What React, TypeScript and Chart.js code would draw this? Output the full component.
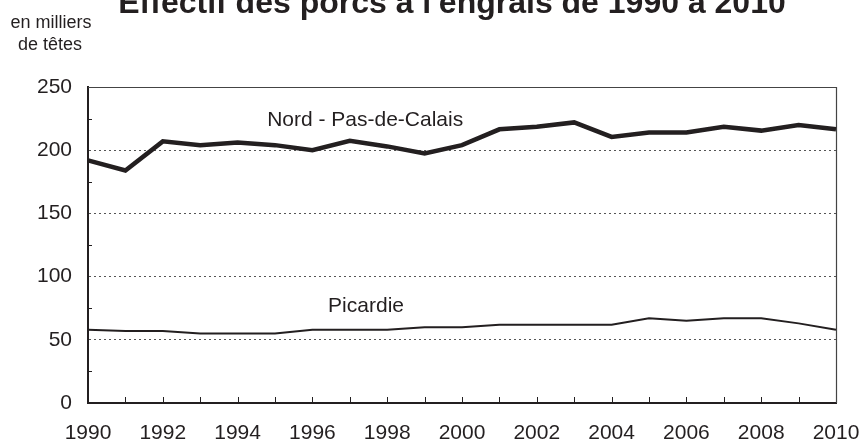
import React, { useEffect, useRef } from "react";
import { Chart, registerables } from "chart.js";

Chart.register(...registerables);

const years = [
  "1990", "1991", "1992", "1993", "1994", "1995", "1996", "1997", "1998", "1999", "2000",
  "2001", "2002", "2003", "2004", "2005", "2006", "2007", "2008", "2009", "2010",
];
const nordPasDeCalais = [
  192, 184, 207, 204, 206, 204, 200, 207.5, 203, 197.5, 204,
  216.5, 218.5, 222, 210.5, 214, 214, 218.5, 215.5, 220, 216.5,
];
const picardie = [
  58, 57, 57, 55, 55, 55, 58, 58, 58, 60, 60,
  62, 62, 62, 62, 67, 65, 67, 67, 63, 58,
];
const yTickValues = [0, 50, 100, 150, 200, 250];
const titleText = "Effectif des porcs à l'engrais de 1990 à 2010";
const unitLines = ["en milliers", "de têtes"];
const seriesLabels = ["Nord - Pas-de-Calais", "Picardie"];

const FONT = "'Liberation Sans', Arial, sans-serif";
const INK = "#231f20";

const decorPlugin = {
  id: "decor",
  beforeDatasetsDraw(chart: any) {
    const { ctx, chartArea, scales } = chart;
    const x = scales.x;
    const y = scales.y;
    ctx.save();
    ctx.strokeStyle = "#444";
    ctx.lineWidth = 1.2;
    ctx.beginPath();
    ctx.moveTo(chartArea.left, chartArea.top + 0.5);
    ctx.lineTo(chartArea.right + 0.5, chartArea.top + 0.5);
    ctx.lineTo(chartArea.right + 0.5, chartArea.bottom);
    ctx.stroke();
    ctx.strokeStyle = INK;
    ctx.lineWidth = 1;
    for (let v = 25; v < 250; v += 50) {
      const py = Math.round(y.getPixelForValue(v)) + 0.5;
      ctx.beginPath();
      ctx.moveTo(chartArea.left, py);
      ctx.lineTo(chartArea.left + 4, py);
      ctx.stroke();
    }
    for (let i = 1; i < years.length - 1; i++) {
      const px = Math.round(x.getPixelForValue(i)) + 0.5;
      ctx.beginPath();
      ctx.moveTo(px, chartArea.bottom);
      ctx.lineTo(px, chartArea.bottom - 6);
      ctx.stroke();
    }
    ctx.restore();
  },
  afterDraw(chart: any) {
    const { ctx, scales } = chart;
    const x = scales.x;
    const y = scales.y;
    ctx.save();
    ctx.fillStyle = INK;
    ctx.font = `bold 32px ${FONT}`;
    ctx.textAlign = "center";
    ctx.textBaseline = "alphabetic";
    ctx.fillText(titleText, 452, 13);
    ctx.font = `18px ${FONT}`;
    ctx.textAlign = "center";
    ctx.fillText(unitLines[0], 51, 28);
    ctx.fillText(unitLines[1], 50, 50);
    ctx.font = `21px ${FONT}`;
    ctx.textAlign = "left";
    ctx.fillText(seriesLabels[0], x.getPixelForValue(4.79), y.getPixelForValue(219));
    ctx.fillText(seriesLabels[1], x.getPixelForValue(6.42), y.getPixelForValue(72));
    ctx.restore();
  },
};

export default function App() {
  const canvasRef = useRef<HTMLCanvasElement | null>(null);

  useEffect(() => {
    if (!canvasRef.current) return;
    const chart = new Chart(canvasRef.current, {
      type: "line",
      data: {
        labels: years,
        datasets: [
          {
            label: seriesLabels[0],
            data: nordPasDeCalais,
            borderColor: INK,
            borderWidth: 4.5,
            pointRadius: 0,
            tension: 0,
            fill: false,
            borderJoinStyle: "miter",
          },
          {
            label: seriesLabels[1],
            data: picardie,
            borderColor: INK,
            borderWidth: 2,
            pointRadius: 0,
            tension: 0,
            fill: false,
          },
        ],
      },
      options: {
        responsive: false,
        devicePixelRatio: 1,
        animation: false,
        layout: { padding: { top: 87, right: 0, bottom: 0, left: 0 } },
        plugins: {
          legend: { display: false },
          title: { display: false },
          tooltip: { enabled: false },
        },
        scales: {
          x: {
            type: "category",
            offset: false,
            grid: { display: false, drawTicks: false },
            border: { display: true, color: INK, width: 2 },
            ticks: {
              autoSkip: false,
              maxRotation: 0,
              padding: 18,
              color: INK,
              font: { family: FONT, size: 21 },
              callback: (_v: any, i: number) => (i % 2 === 0 ? years[i] : ""),
            },
            afterFit: (s: any) => {
              s.height = 40;
              s.paddingRight = 26;
              s.paddingLeft = 0;
            },
          },
          y: {
            min: 0,
            max: 250,
            afterBuildTicks: (s: any) => {
              s.ticks = yTickValues.map((v) => ({ value: v }));
            },
            grid: {
              drawTicks: false,
              lineWidth: 1,
              color: (c: any) =>
                c.tick && c.tick.value > 0 && c.tick.value < 250 ? "#555" : "rgba(0,0,0,0)",
            },
            border: { display: true, color: INK, width: 2, dash: [2, 3] },
            ticks: {
              padding: 16,
              color: INK,
              font: { family: FONT, size: 21 },
            },
            afterFit: (s: any) => {
              s.width = 88;
              s.paddingTop = 0;
              s.paddingBottom = 0;
            },
          },
        },
      },
      plugins: [decorPlugin],
    });
    return () => chart.destroy();
  }, []);

  return (
    <div style={{ position: "fixed", left: 0, top: 0, width: 862, height: 443, background: "#fff" }}>
      <canvas ref={canvasRef} width={862} height={443} style={{ width: 862, height: 443 }} />
    </div>
  );
}
